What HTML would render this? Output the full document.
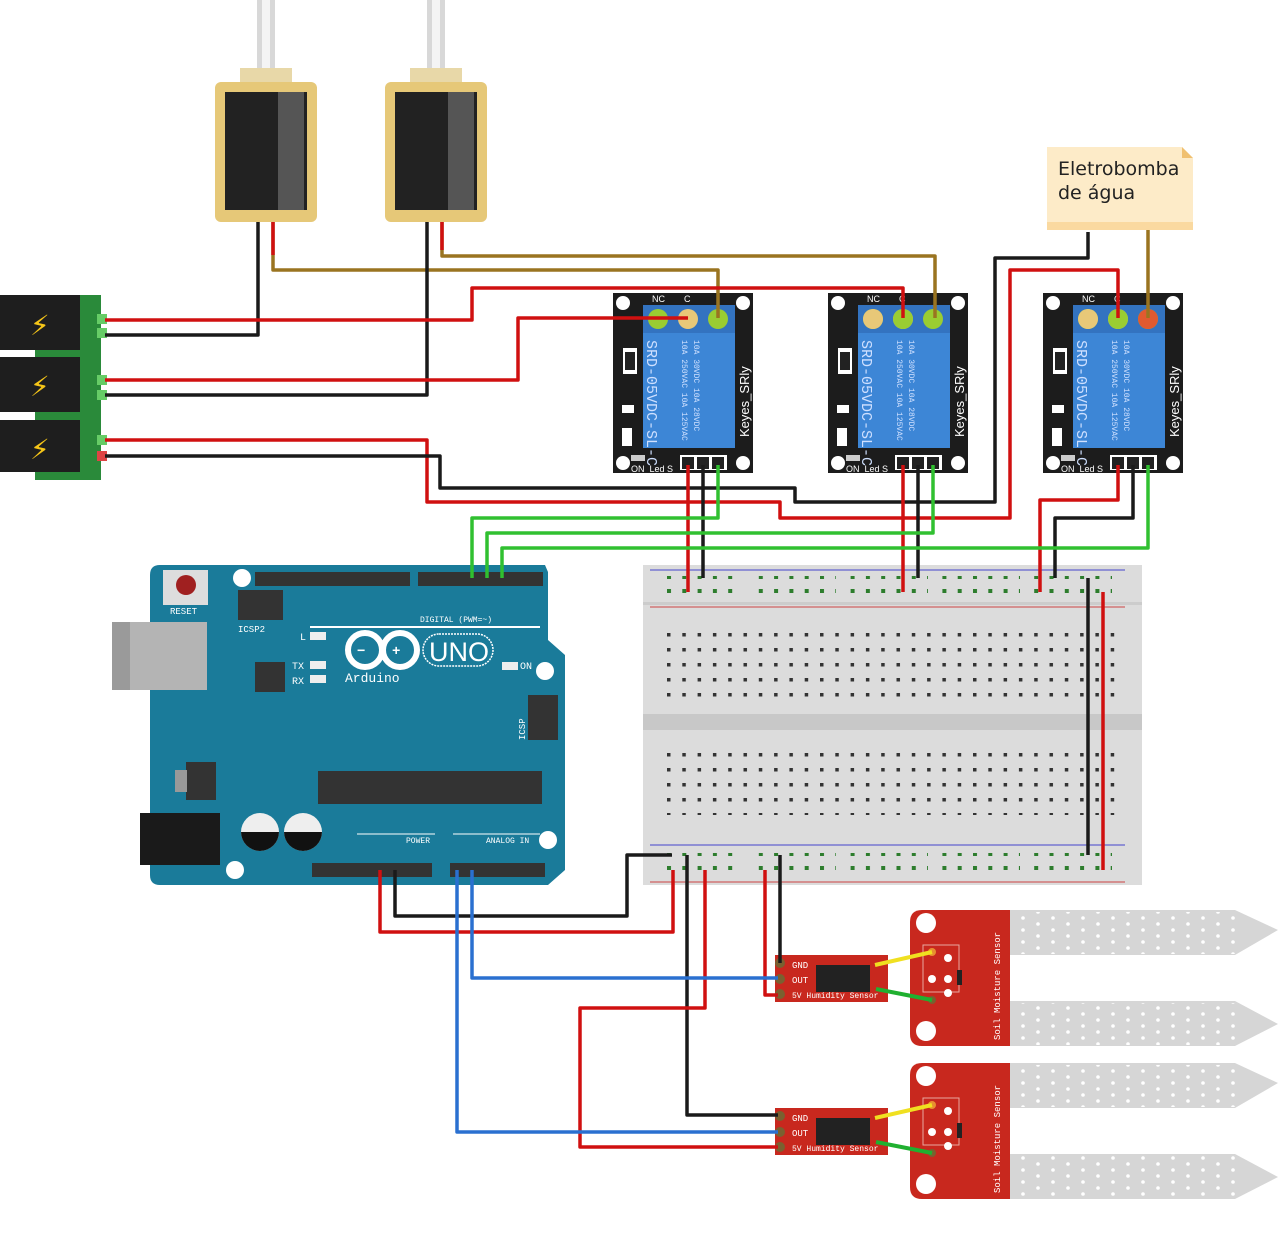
<!DOCTYPE html>
<html><head><meta charset="utf-8"><style>
html,body{margin:0;padding:0;background:#fff;width:1280px;height:1240px;overflow:hidden}
svg{display:block}
</style></head><body>
<svg width="1280" height="1240" viewBox="0 0 1280 1240" xmlns="http://www.w3.org/2000/svg" font-family="Liberation Mono, monospace">
<defs>
<pattern id="bbh" x="667" y="633" width="15.3" height="15" patternUnits="userSpaceOnUse"><rect x="0" y="0" width="3.5" height="3.5" fill="#333"/></pattern>
<pattern id="rail" x="667" y="575" width="15.3" height="14" patternUnits="userSpaceOnUse"><rect x="0" y="0" width="4" height="4" fill="#2d7d2d"/></pattern>
<pattern id="probe" x="1020" y="915" width="30" height="12" patternUnits="userSpaceOnUse"><circle cx="3" cy="3" r="1.8" fill="#fff"/><circle cx="18" cy="9" r="1.8" fill="#fff"/></pattern>
</defs>

<!-- Solenoids -->
<g>
<rect x="257" y="0" width="18" height="75" fill="#d8d8d8"/><rect x="262" y="0" width="8" height="75" fill="#f4f4f4"/>
<rect x="240" y="68" width="52" height="14" fill="#e8d8a8"/>
<rect x="215" y="82" width="102" height="140" rx="6" fill="#e6c878"/>
<rect x="225" y="92" width="82" height="118" fill="#222"/><rect x="278" y="92" width="26" height="118" fill="#555"/>
<rect x="427" y="0" width="18" height="75" fill="#d8d8d8"/><rect x="432" y="0" width="8" height="75" fill="#f4f4f4"/>
<rect x="410" y="68" width="52" height="14" fill="#e8d8a8"/>
<rect x="385" y="82" width="102" height="140" rx="6" fill="#e6c878"/>
<rect x="395" y="92" width="82" height="118" fill="#222"/><rect x="448" y="92" width="26" height="118" fill="#555"/>
</g>

<!-- Power jacks -->
<rect x="35" y="295" width="66" height="185" fill="#2a8a3a"/>
<g fill="#1e1e1e">
<rect x="0" y="295" width="80" height="55"/><rect x="0" y="357" width="80" height="55"/><rect x="0" y="420" width="80" height="52"/>
</g>
<g fill="#f5c518" font-family="DejaVu Sans, sans-serif" font-size="28"><text x="30" y="335">⚡</text><text x="30" y="396">⚡</text><text x="30" y="459">⚡</text></g>
<g fill="#6c6"><rect x="97" y="314" width="10" height="10"/><rect x="97" y="328" width="10" height="10"/><rect x="97" y="375" width="10" height="10"/><rect x="97" y="390" width="10" height="10"/><rect x="97" y="435" width="10" height="10"/></g>
<rect x="97" y="451" width="10" height="10" fill="#d44"/>

<!-- Pump note -->
<path d="M1047 147 H1182 L1193 158 V230 H1047 Z" fill="#fdebc8"/>
<rect x="1047" y="222" width="146" height="8" fill="#fad9a0"/>
<path d="M1182 147 V158 H1193 Z" fill="#f0c070"/>
<text x="1058" y="175" font-size="19" font-family="DejaVu Sans, sans-serif" fill="#222">Eletrobomba</text>
<text x="1058" y="199" font-size="19" font-family="DejaVu Sans, sans-serif" fill="#222">de água</text>

<!-- Relays -->
<g id="relay">
<rect x="613" y="293" width="140" height="180" fill="#1c1c1c"/>
<circle cx="623" cy="303" r="7" fill="#fff"/><circle cx="743" cy="303" r="7" fill="#fff"/><circle cx="623" cy="463" r="7" fill="#fff"/><circle cx="743" cy="463" r="7" fill="#fff"/>
<rect x="643" y="305" width="92" height="143" fill="#3d86d6"/>
<rect x="643" y="305" width="92" height="28" fill="#3373c0"/>
<circle cx="658" cy="319" r="10" fill="#9acd32"/><circle cx="688" cy="319" r="10" fill="#e8c878"/><circle cx="718" cy="319" r="10" fill="#9acd32"/>
<text x="652" y="302" font-size="9" fill="#fff" font-family="Liberation Sans, sans-serif">NC</text><text x="684" y="302" font-size="9" fill="#fff" font-family="Liberation Sans, sans-serif">C</text>
<text transform="translate(647,340) rotate(90)" font-size="15" fill="#cfe0ff">SRD-05VDC-SL-C</text>
<text transform="translate(682,340) rotate(90)" font-size="8" fill="#cfe0ff">10A 250VAC  10A 125VAC</text>
<text transform="translate(694,340) rotate(90)" font-size="8" fill="#cfe0ff">10A  30VDC  10A  28VDC</text>
<text transform="translate(749,437) rotate(-90)" font-size="13" fill="#fff" font-family="Liberation Sans, sans-serif">Keyes_SRly</text>
<rect x="623" y="348" width="14" height="26" fill="#fff"/><rect x="625" y="352" width="10" height="18" fill="#222"/>
<rect x="622" y="405" width="12" height="8" fill="#fff"/><rect x="622" y="428" width="10" height="18" fill="#fff"/>
<rect x="631" y="455" width="14" height="6" fill="#ccc"/>
<text x="631" y="472" font-size="9" fill="#fff" font-family="Liberation Sans, sans-serif">ON_Led S</text>
<rect x="680" y="455" width="47" height="15" fill="#fff"/><rect x="682" y="457" width="12" height="12" fill="#222"/><rect x="697" y="457" width="12" height="12" fill="#222"/><rect x="712" y="457" width="12" height="12" fill="#222"/>
</g>
<use href="#relay" x="215"/>
<use href="#relay" x="430"/>
<circle cx="1148" cy="319" r="10" fill="#e05a30"/>
<circle cx="873" cy="319" r="10" fill="#e8c878"/><circle cx="903" cy="319" r="10" fill="#9acd32"/>
<circle cx="1088" cy="319" r="10" fill="#e8c878"/><circle cx="1118" cy="319" r="10" fill="#9acd32"/>

<!-- Breadboard -->
<rect x="643" y="565" width="499" height="320" fill="#dcdcdc"/>
<rect x="643" y="602" width="499" height="3" fill="#ccc"/>
<rect x="643" y="714" width="499" height="16" fill="#c8c8c8"/>
<line x1="650" y1="570" x2="1125" y2="570" stroke="#44c" stroke-width="1"/><line x1="650" y1="607" x2="1125" y2="607" stroke="#c44" stroke-width="1"/>
<line x1="650" y1="845" x2="1125" y2="845" stroke="#44c" stroke-width="1"/><line x1="650" y1="882" x2="1125" y2="882" stroke="#c44" stroke-width="1"/>
<rect x="665" y="576" width="78" height="20" fill="url(#rail)"/><rect x="758" y="576" width="78" height="20" fill="url(#rail)"/><rect x="850" y="576" width="78" height="20" fill="url(#rail)"/><rect x="942" y="576" width="78" height="20" fill="url(#rail)"/><rect x="1034" y="576" width="78" height="20" fill="url(#rail)"/>
<g transform="translate(0,277)"><rect x="665" y="576" width="78" height="20" fill="url(#rail)"/><rect x="758" y="576" width="78" height="20" fill="url(#rail)"/><rect x="850" y="576" width="78" height="20" fill="url(#rail)"/><rect x="942" y="576" width="78" height="20" fill="url(#rail)"/><rect x="1034" y="576" width="78" height="20" fill="url(#rail)"/></g>
<rect x="665" y="633" width="455" height="72" fill="url(#bbh)"/>
<rect x="665" y="743" width="455" height="72" fill="url(#bbh)"/>

<!-- Arduino -->
<path d="M160 565 H545 L548 572 V640 L565 655 V870 L548 885 H160 Q150 885 150 875 V575 Q150 565 160 565Z" fill="#1a7b9a"/>
<rect x="112" y="622" width="95" height="68" fill="#b4b4b4"/><rect x="112" y="622" width="18" height="68" fill="#9a9a9a"/>
<rect x="140" y="813" width="80" height="52" fill="#1a1a1a"/>
<rect x="163" y="570" width="45" height="35" fill="#ddd"/><circle cx="186" cy="585" r="10" fill="#a02020"/>
<text x="170" y="614" font-size="9" fill="#fff">RESET</text>
<circle cx="242" cy="578" r="9" fill="#fff"/><circle cx="545" cy="671" r="9" fill="#fff"/><circle cx="548" cy="840" r="9" fill="#fff"/><circle cx="235" cy="870" r="9" fill="#fff"/>
<rect x="255" y="572" width="155" height="14" fill="#333"/><rect x="418" y="572" width="125" height="14" fill="#333"/>
<rect x="312" y="863" width="120" height="14" fill="#333"/><rect x="450" y="863" width="95" height="14" fill="#333"/>
<rect x="238" y="590" width="45" height="30" fill="#333"/>
<text x="238" y="632" font-size="9" fill="#fff">ICSP2</text>
<text x="420" y="622" font-size="8" fill="#fff">DIGITAL (PWM=~)</text>
<line x1="310" y1="627" x2="540" y2="627" stroke="#fff" stroke-width="2"/>
<rect x="255" y="662" width="30" height="30" fill="#333"/>
<rect x="310" y="632" width="16" height="8" fill="#eee"/><rect x="310" y="661" width="16" height="8" fill="#eee"/><rect x="310" y="675" width="16" height="8" fill="#eee"/><rect x="502" y="662" width="16" height="8" fill="#eee"/>
<text x="300" y="640" font-size="10" fill="#fff">L</text><text x="292" y="669" font-size="10" fill="#fff">TX</text><text x="292" y="684" font-size="10" fill="#fff">RX</text><text x="520" y="669" font-size="10" fill="#fff">ON</text>
<circle cx="365" cy="650" r="17" fill="none" stroke="#fff" stroke-width="6"/><circle cx="400" cy="650" r="17" fill="none" stroke="#fff" stroke-width="6"/>
<text x="357" y="655" font-size="14" fill="#fff" font-weight="bold">−</text><text x="392" y="655" font-size="14" fill="#fff" font-weight="bold">+</text>
<rect x="423" y="634" width="70" height="32" rx="16" fill="none" stroke="#fff" stroke-width="1.5" stroke-dasharray="2 1"/>
<text x="429" y="661" font-size="27" fill="#fff" font-family="Liberation Sans, sans-serif">UNO</text>
<text x="345" y="682" font-size="13" fill="#fff">Arduino</text>
<rect x="528" y="695" width="30" height="45" fill="#333"/>
<text transform="translate(525,740) rotate(-90)" font-size="9" fill="#fff">ICSP</text>
<rect x="318" y="771" width="224" height="33" fill="#333"/>
<rect x="186" y="762" width="30" height="38" fill="#333"/><rect x="175" y="770" width="12" height="22" fill="#999"/>
<circle cx="260" cy="832" r="19" fill="#eee"/><path d="M241 832 A19 19 0 0 0 279 832Z" fill="#111"/>
<circle cx="303" cy="832" r="19" fill="#eee"/><path d="M284 832 A19 19 0 0 0 322 832Z" fill="#111"/>
<text x="406" y="843" font-size="8" fill="#fff">POWER</text><text x="486" y="843" font-size="8" fill="#fff">ANALOG IN</text>
<line x1="357" y1="834" x2="435" y2="834" stroke="#fff"/><line x1="453" y1="834" x2="540" y2="834" stroke="#fff"/>

<!-- Sensors -->
<g id="sensor">
<rect x="775" y="955" width="113" height="47" fill="#c8281e"/>
<rect x="816" y="965" width="54" height="27" fill="#222"/>
<circle cx="780" cy="963" r="5" fill="#7a6030"/><circle cx="780" cy="979" r="5" fill="#7a6030"/><circle cx="780" cy="994" r="5" fill="#7a6030"/>
<text x="792" y="968" font-size="9" fill="#fff">GND</text><text x="792" y="983" font-size="9" fill="#fff">OUT</text><text x="792" y="998" font-size="8" fill="#fff">5V Humidity Sensor</text>
<path d="M922 910 H1010 V1046 H922 Q910 1046 910 1034 V922 Q910 910 922 910Z" fill="#c8281e"/>
<circle cx="926" cy="923" r="10" fill="#fff"/><circle cx="926" cy="1031" r="10" fill="#fff"/>
<rect x="923" y="945" width="36" height="47" fill="none" stroke="#e8a8a0"/>
<circle cx="932" cy="952" r="4" fill="#e89030"/><circle cx="948" cy="958" r="4" fill="#fff"/><circle cx="932" cy="979" r="4" fill="#fff"/><circle cx="948" cy="979" r="4" fill="#fff"/><circle cx="948" cy="993" r="4" fill="#fff"/><circle cx="932" cy="1000" r="4" fill="#7a6030"/>
<rect x="957" y="970" width="5" height="15" fill="#222"/>
<text transform="translate(1000,1040) rotate(-90)" font-size="9" fill="#fff">Soil Moisture Sensor</text>
<path d="M1010 910 H1235 L1278 930 L1235 955 H1010Z" fill="#d6d6d6"/>
<path d="M1010 1001 H1235 L1278 1024 L1235 1046 H1010Z" fill="#d6d6d6"/>
<rect x="1015" y="912" width="225" height="42" fill="url(#probe)"/>
<line x1="875" y1="965" x2="932" y2="952" stroke="#f0e020" stroke-width="4"/>
<line x1="876" y1="989" x2="932" y2="1000" stroke="#20b030" stroke-width="4"/>
</g>
<use href="#sensor" y="153"/>
<rect x="1015" y="1003" width="225" height="42" fill="url(#probe)"/>
<rect x="1015" y="1156" width="225" height="42" fill="url(#probe)"/>

<!-- Wires -->
<g fill="none" stroke-width="3.5" stroke-linejoin="round">
<polyline points="258,222 258,335 105,335" stroke="#1a1a1a"/>
<polyline points="273,222 273,270 718,270 718,318" stroke="#9a7420"/>
<line x1="273" y1="222" x2="273" y2="255" stroke="#d01010"/>
<polyline points="427,222 427,395 105,395" stroke="#1a1a1a"/>
<polyline points="442,222 442,256 935,256 935,318" stroke="#9a7420"/>
<line x1="442" y1="222" x2="442" y2="250" stroke="#d01010"/>
<polyline points="105,320 472,320 472,288 903,288 903,318" stroke="#d01010"/>
<polyline points="105,380 518,380 518,318 688,318" stroke="#d01010"/>
<polyline points="105,440 427,440 427,502 780,502 780,518 1010,518 1010,270 1118,270 1118,318" stroke="#d01010"/>
<polyline points="105,456 440,456 440,488 795,488 795,502 995,502 995,258 1088,258 1088,232" stroke="#1a1a1a"/>
<polyline points="1148,230 1148,318" stroke="#9a7420"/>
<polyline points="688,465 688,592" stroke="#d01010"/>
<polyline points="703,465 703,578" stroke="#1a1a1a"/>
<polyline points="718,465 718,518 472,518 472,578" stroke="#30c030"/>
<polyline points="903,465 903,592" stroke="#d01010"/>
<polyline points="918,465 918,578" stroke="#1a1a1a"/>
<polyline points="933,465 933,533 487,533 487,578" stroke="#30c030"/>
<polyline points="1118,465 1118,500 1040,500 1040,592" stroke="#d01010"/>
<polyline points="1133,465 1133,518 1055,518 1055,578" stroke="#1a1a1a"/>
<polyline points="1148,465 1148,548 502,548 502,578" stroke="#30c030"/>
<line x1="1088" y1="578" x2="1088" y2="855" stroke="#1a1a1a"/>
<line x1="1103" y1="592" x2="1103" y2="870" stroke="#d01010"/>
<polyline points="380,870 380,932 673,932 673,870" stroke="#d01010"/>
<polyline points="395,870 395,916 627,916 627,855 672,855" stroke="#1a1a1a"/>
<polyline points="687,855 687,1115 778,1115" stroke="#1a1a1a"/>
<polyline points="705,870 705,1008 580,1008 580,1147 778,1147" stroke="#d01010"/>
<polyline points="765,870 765,995 778,995" stroke="#d01010"/>
<polyline points="780,855 780,963" stroke="#1a1a1a"/>
<polyline points="457,870 457,1132 778,1132" stroke="#2a70d0"/>
<polyline points="472,870 472,978 778,978" stroke="#2a70d0"/>
</g>
</svg>
</body></html>
